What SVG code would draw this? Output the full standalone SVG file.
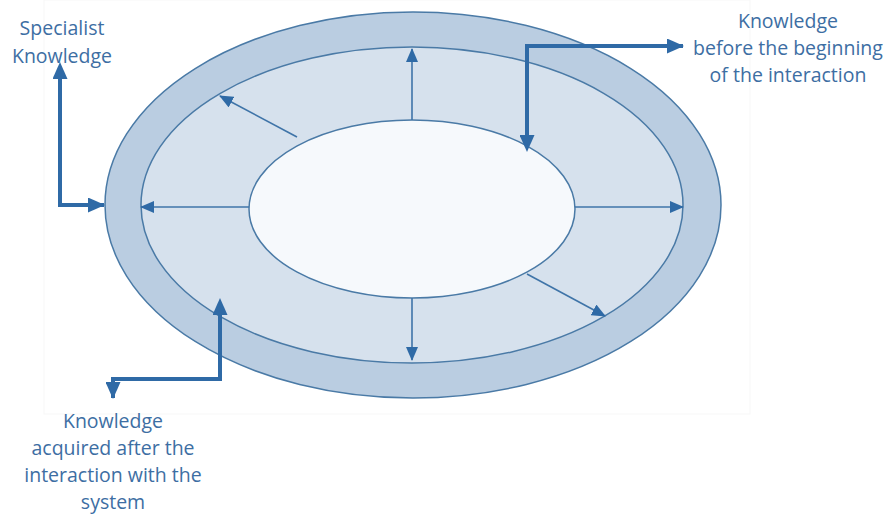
<svg xmlns="http://www.w3.org/2000/svg" width="888" height="515" viewBox="0 0 888 515">
<style>
.ring{stroke:#4a7aa6;stroke-width:1.5}
.thin{stroke:#3f74a8;stroke-width:1.6;fill:none}
.thick{stroke:#2f6aa6;stroke-width:4;fill:none;stroke-linejoin:miter}
.lbl{font-family:"Open Sans","Liberation Sans",sans-serif;font-size:19.5px;fill:#3d6ea3;text-anchor:middle}
</style>
<defs>
<marker id="ahs" markerWidth="14" markerHeight="12" refX="13" refY="6" orient="auto" markerUnits="userSpaceOnUse" viewBox="0 0 14 12">
<path d="M0,0 L14,6 L0,12 z" fill="#2f6aa6"/>
</marker>
<marker id="ahT" markerWidth="17" markerHeight="15" refX="16" refY="7.5" orient="auto" markerUnits="userSpaceOnUse" viewBox="0 0 17 15">
<path d="M0,0 L17,7.5 L0,15 z" fill="#2f6aa6"/>
</marker>
<marker id="ahTs" markerWidth="17" markerHeight="15" refX="1" refY="7.5" orient="auto-start-reverse" markerUnits="userSpaceOnUse" viewBox="0 0 17 15">
<path d="M0,0 L17,7.5 L0,15 z" fill="#2f6aa6"/>
</marker>
</defs>
<rect x="44" y="0" width="706" height="414" fill="none" stroke="#f7f7f7" stroke-width="1"/>
<g id="outer"><ellipse class="ring" cx="413" cy="205" rx="308" ry="193" fill="#bacde1"/></g>
<g id="middle"><ellipse class="ring" cx="412" cy="205" rx="271" ry="158" fill="#d6e1ed"/></g>
<g id="inner"><ellipse class="ring" cx="412" cy="209" rx="163" ry="89" fill="#f6f9fc"/></g>
<g id="connectors">
<line class="thin" x1="412" y1="120" x2="412" y2="49" marker-end="url(#ahs)"/>
<line class="thin" x1="412" y1="298" x2="412" y2="360" marker-end="url(#ahs)"/>
<line class="thin" x1="249" y1="207" x2="141" y2="207" marker-end="url(#ahs)"/>
<line class="thin" x1="575" y1="207" x2="683" y2="207" marker-end="url(#ahs)"/>
<line class="thin" x1="297" y1="137" x2="220" y2="96" marker-end="url(#ahs)"/>
<line class="thin" x1="527" y1="274" x2="605" y2="316" marker-end="url(#ahs)"/>
<path class="thick" d="M60,78 V205 H104" marker-start="url(#ahTs)" marker-end="url(#ahT)"/>
<path class="thick" d="M527,136 V46 H683" marker-start="url(#ahTs)" marker-end="url(#ahT)"/>
<path class="thick" d="M220,314 V379 H113 V398" marker-start="url(#ahTs)" marker-end="url(#ahT)"/>
</g>
<g id="label-specialist">
<text class="lbl" x="62" y="35">Specialist</text>
<text class="lbl" x="62" y="63">Knowledge</text>
</g>
<g id="label-before">
<text class="lbl" x="788" y="28">Knowledge</text>
<text class="lbl" x="788" y="55">before the beginning</text>
<text class="lbl" x="788" y="82">of the interaction</text>
</g>
<g id="label-after">
<text class="lbl" x="113" y="428">Knowledge</text>
<text class="lbl" x="113" y="455">acquired after the</text>
<text class="lbl" x="113" y="482">interaction with the</text>
<text class="lbl" x="113" y="509">system</text>
</g>
</svg>
